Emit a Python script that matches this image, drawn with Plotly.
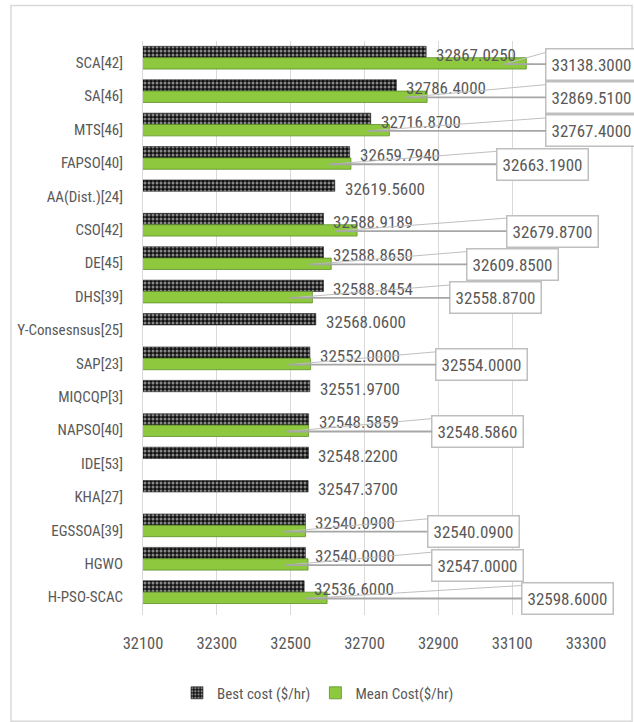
import plotly.graph_objects as go

categories = ["SCA[42]", "SA[46]", "MTS[46]", "FAPSO[40]", "AA(Dist.)[24]", "CSO[42]",
              "DE[45]", "DHS[39]", "Y-Consesnsus[25]", "SAP[23]", "MIQCQP[3]", "NAPSO[40]",
              "IDE[53]", "KHA[27]", "EGSSOA[39]", "HGWO", "H-PSO-SCAC"]
best_cost = [32867.0250, 32786.4000, 32716.8700, 32659.7940, 32619.5600, 32588.9189,
             32588.8650, 32588.8454, 32568.0600, 32552.0000, 32551.9700, 32548.5859,
             32548.2200, 32547.3700, 32540.0900, 32540.0000, 32536.6000]
mean_cost = [33138.3000, 32869.5100, 32767.4000, 32663.1900, None, 32679.8700,
             32609.8500, 32558.8700, None, 32554.0000, None, 32548.5860,
             None, None, 32540.0900, 32547.0000, 32598.6000]
x_ticks = [32100, 32300, 32500, 32700, 32900, 33100, 33300]

# label box centres (axis units) for the mean-cost callouts
mean_label_x = [33316, 33316, 33316, 33181, None, 33208, 33102, 33056, None, 33018,
                None, 33007, None, None, 32994, 33005, 33251]

FONT = "Roboto Condensed, Roboto, sans-serif"
GREY_TXT = "#595959"
UNITS_PER_PX = 1200 / 443.0
TIP_SHIFT_PX = -22

fig = go.Figure()
fig.add_trace(go.Bar(
    y=categories, x=best_cost, orientation="h", name="Best cost ($/hr)",
    marker=dict(color="black", line=dict(color="#222222", width=0.6),
                pattern=dict(shape=".", fgcolor="white", bgcolor="#111111", size=4, solidity=0.45)),
))
fig.add_trace(go.Bar(
    y=categories, x=mean_cost, orientation="h", name="Mean Cost($/hr)",
    marker=dict(color="#8DC83F", line=dict(color="#5E8F27", width=0.8)),
))

annotations = []
for i, (b, m, lx) in enumerate(zip(best_cost, mean_cost, mean_label_x)):
    annotations.append(dict(
        x=b, y=i - 0.08, xref="x", yref="y", text=f"{b:.4f}", showarrow=False,
        xanchor="left", xshift=8, font=dict(family=FONT, size=17, color=GREY_TXT)))
    if m is not None:
        tail_x = lx - TIP_SHIFT_PX * UNITS_PER_PX
        # slanted secondary leader line toward the box's upper-left corner
        annotations.append(dict(
            x=m, y=i + 0.19, xref="x", yref="y", text=" ", xshift=TIP_SHIFT_PX,
            showarrow=True, arrowhead=0, arrowwidth=1, arrowcolor="#BFBFBF",
            axref="x", ayref="y", ax=tail_x - 40 * UNITS_PER_PX, ay=i + 0.19 - 0.40,
            font=dict(size=1)))
        annotations.append(dict(
            x=m, y=i + 0.19, xref="x", yref="y", text=f"{m:.4f}", xshift=TIP_SHIFT_PX,
            showarrow=True, arrowhead=0, arrowwidth=1.8, arrowcolor="#A6A6A6",
            axref="x", ayref="y", ax=tail_x, ay=i + 0.19,
            bgcolor="white", bordercolor="#BFBFBF", borderwidth=1.5, borderpad=5,
            font=dict(family=FONT, size=17, color=GREY_TXT)))

fig.update_layout(
    width=634, height=722,
    margin=dict(l=143, r=48, t=41, b=107),
    paper_bgcolor="white", plot_bgcolor="white",
    barmode="group", bargap=0.32, bargroupgap=0,
    font=dict(family=FONT, size=15, color=GREY_TXT),
    showlegend=True,
    legend=dict(orientation="h", x=0.395, xanchor="center", y=-0.136, yanchor="middle",
                font=dict(family=FONT, size=15, color=GREY_TXT), itemwidth=30),
    annotations=annotations,
    shapes=[dict(type="rect", xref="paper", yref="paper", x0=-0.298, x1=1.104,
                 y0=-0.185, y1=1.062, line=dict(color="#D9D9D9", width=1.5), layer="below")],
)
fig.update_xaxes(range=[32100, 33300], tickvals=x_ticks, ticktext=[str(t) for t in x_ticks],
                 showgrid=True, gridcolor="#D9D9D9", gridwidth=1, zeroline=False,
                 showline=False, ticks="", ticklabelstandoff=16, automargin=False,
                 tickfont=dict(family=FONT, size=16.5, color=GREY_TXT))
fig.update_yaxes(autorange="reversed", showgrid=False, showline=True, linecolor="#D9D9D9",
                 ticks="", ticklabelstandoff=16, ticklabelshift=-5, automargin=False,
                 tickfont=dict(family=FONT, size=15, color=GREY_TXT))

fig.write_html("out.html", config={"displayModeBar": False},
               post_script="document.body.style.margin='0px';")
